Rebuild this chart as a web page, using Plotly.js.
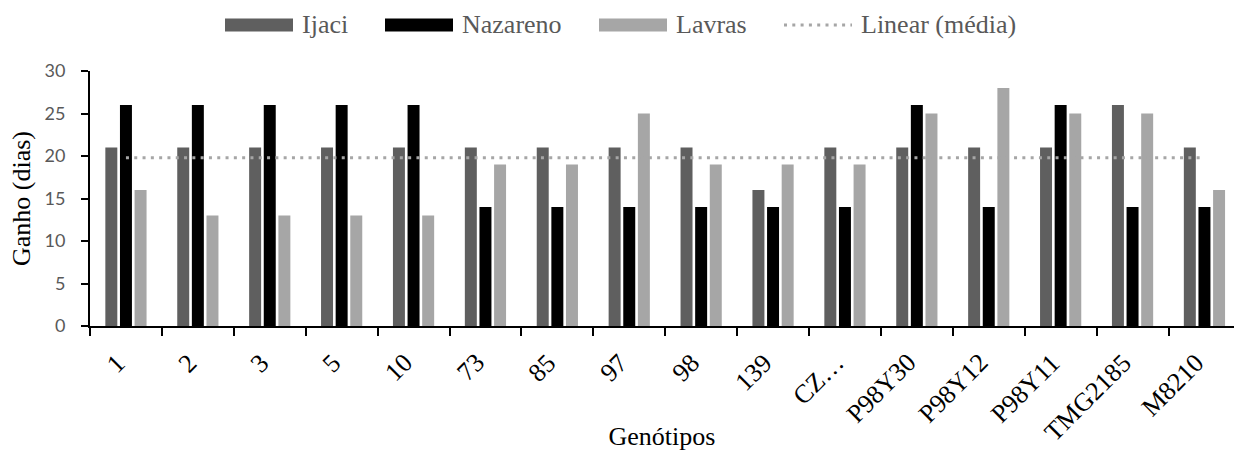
<!DOCTYPE html>
<html>
<head>
<meta charset="utf-8">
<script src="https://cdn.plot.ly/plotly-3.0.1.min.js"></script>
<style>html,body{margin:0;padding:0;background:#fff;}#chart{width:1234px;height:454px;}</style>
</head>
<body>
<div id="chart"></div>
<script>
// ---- data ----
const genotipos = ["1","2","3","5","10","73","85","97","98","139","CZ…","P98Y30","P98Y12","P98Y11","TMG2185","M8210"];
const ijaci    = [21,21,21,21,21,21,21,21,21,16,21,21,21,21,26,21];
const nazareno = [26,26,26,26,26,14,14,14,14,14,14,26,14,26,14,14];
const lavras   = [16,13,13,13,13,19,19,25,19,19,19,25,28,25,25,16];
const linearMedia = [19.8,19.8,19.8,19.8,19.8,19.8,19.8,19.8,19.8,19.8,19.8,19.8,19.8,19.8,19.8,19.8];
const seriesNames = ["Ijaci","Nazareno","Lavras","Linear (média)"];
const yTickVals = [0,5,10,15,20,25,30];

// ---- style ----
const colors = ["#5f5f5f","#000000","#a6a6a6","#a6a6a6"];
const W = 1234, H = 454;
const M = {l:90, r:0, t:71, b:128};
const plotW = W - M.l - M.r, plotH = H - M.t - M.b;
const catW = 71.9;
const serif = "Liberation Serif";

const traces = [
  {type:"bar", name:seriesNames[0], x:genotipos, y:ijaci, marker:{color:colors[0]}, showlegend:false},
  {type:"bar", name:seriesNames[1], x:genotipos, y:nazareno, marker:{color:colors[1]}, showlegend:false},
  {type:"bar", name:seriesNames[2], x:genotipos, y:lavras, marker:{color:colors[2]}, showlegend:false},
  {type:"scatter", mode:"lines", name:seriesNames[3], x:genotipos, y:linearMedia,
   line:{color:colors[3], width:3, dash:"3px,5.3px"}, showlegend:false}
];

const px2x = p => (p - M.l) / plotW;
const py2y = p => (H - M.b - p) / plotH;
const shapes = [], annotations = [];

// custom legend (wide swatches like the original)
const legendX = [225, 385, 599, 784];
const swW = 68, swTop = 18.5, swBot = 31.5, legY = 25;
seriesNames.forEach((nm, i) => {
  if (i < 3) {
    shapes.push({type:"rect", xref:"paper", yref:"paper",
      x0:px2x(legendX[i]), x1:px2x(legendX[i]+swW), y0:py2y(swBot), y1:py2y(swTop),
      fillcolor:colors[i], line:{width:0}});
  } else {
    shapes.push({type:"line", xref:"paper", yref:"paper",
      x0:px2x(legendX[i]), x1:px2x(legendX[i]+swW), y0:py2y(legY), y1:py2y(legY),
      line:{color:colors[i], width:3, dash:"3px,5.3px"}});
  }
  annotations.push({xref:"paper", yref:"paper", x:px2x(legendX[i]+swW+7), y:py2y(legY),
    xanchor:"left", yanchor:"middle", showarrow:false, text:nm,
    font:{family:serif, size:26, color:"#595959"}});
});

// rotated category labels (top-right corner hangs just below the axis, like the original)
genotipos.forEach((g, i) => {
  annotations.push({xref:"x", x:i, yref:"paper", y:py2y(347), xanchor:"right", yanchor:"top",
    xshift:6, textangle:-45, showarrow:false, text:g, borderpad:0,
    font:{family:serif, size:26, color:"#000"}});
});

const layout = {
  width:W, height:H, margin:M,
  paper_bgcolor:"#fff", plot_bgcolor:"#fff",
  barmode:"group", bargap:0.39, bargroupgap:0.18,
  showlegend:false,
  xaxis:{
    type:"category", range:[-0.5, plotW/catW - 0.5],
    showline:true, linecolor:"#000", linewidth:2,
    ticks:"outside", tickson:"boundaries", ticklen:8, tickwidth:2, tickcolor:"#000",
    showticklabels:false,
    showgrid:false, zeroline:false, automargin:false,
    title:{text:"Genótipos", font:{family:serif, size:26, color:"#000"}, standoff:100}
  },
  yaxis:{
    range:[0,30], tickvals:yTickVals, ticktext:yTickVals.map(String),
    showline:true, linecolor:"#000", linewidth:2,
    ticks:"outside", ticklen:7, tickwidth:2, tickcolor:"#000",
    tickfont:{family:"Lato", size:18, color:"#595959"},
    ticklabelstandoff:12,
    showgrid:false, zeroline:false, automargin:false,
    title:{text:"Ganho (dias)", font:{family:serif, size:26, color:"#000"}, standoff:6}
  },
  shapes:shapes, annotations:annotations
};

Plotly.newPlot("chart", traces, layout, {displayModeBar:false, staticPlot:true});
</script>
</body>
</html>
